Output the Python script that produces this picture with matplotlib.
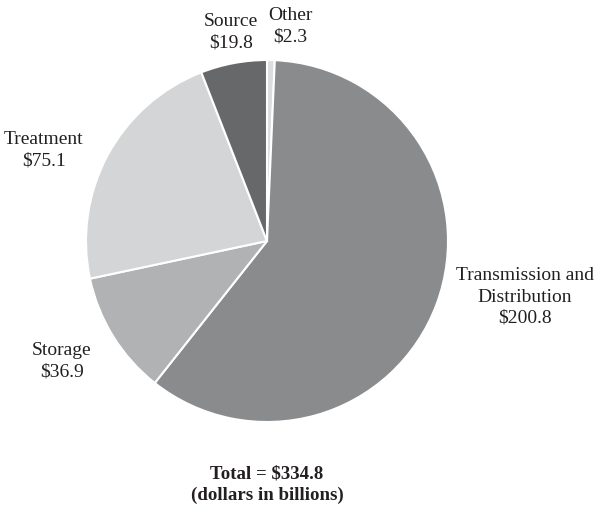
import matplotlib
matplotlib.use('Agg')
from matplotlib import pyplot as plt

# data, clockwise from the top
names = ['Other', 'Transmission and\nDistribution', 'Storage', 'Treatment', 'Source']
values = [2.3, 200.8, 36.9, 75.1, 19.8]
colors = ['#dcdddf', '#8a8b8d', '#b1b2b4', '#d4d5d6', '#67686a']
label_pos = [(290, 483), (525, 212), (62, 148), (44, 359), (231, 477)]
total_text = 'Total = $334.8\n(dollars in billions)'

plt.rcParams['font.family'] = ['Liberation Serif', 'DejaVu Serif']

fig = plt.figure(figsize=(5.94, 5.09), dpi=100)
ax = fig.add_axes([0, 0, 1, 1])

ax.pie(values, colors=colors, startangle=90, counterclock=False,
       center=(267, 268), radius=181, frame=True,
       wedgeprops=dict(edgecolor='white', linewidth=1.5))
ax.set_xlim(0, 594)
ax.set_ylim(0, 509)
ax.set_aspect('auto')
ax.axis('off')

for name, val, (x, y) in zip(names, values, label_pos):
    ax.text(x, y, '%s\n$%.1f' % (name, val), ha='center', va='center',
            fontsize=14, color='#231f20', linespacing=1.32)

ax.text(267, 24, total_text, ha='center', va='center', fontsize=13.6,
        fontweight='bold', color='#231f20', linespacing=1.3)

fig.savefig('out.png', dpi=100)
